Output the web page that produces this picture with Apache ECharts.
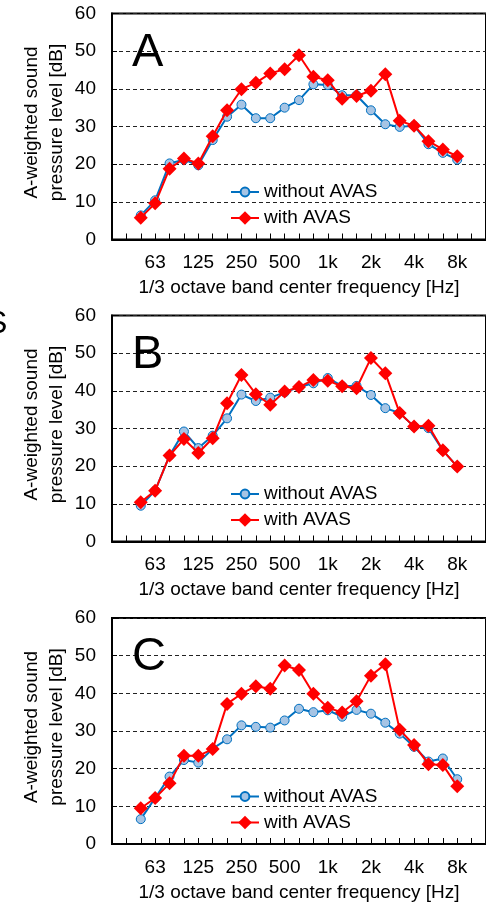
<!DOCTYPE html>
<html><head><meta charset="utf-8">
<script src="https://cdn.jsdelivr.net/npm/echarts@6/dist/echarts.min.js"></script>
<style>html,body{margin:0;padding:0;background:#fff;overflow:hidden}#c{width:486px;height:905px}</style>
</head><body><div id="c"></div>
<script>
// full 1/3-octave axis (axis extends past data on each side)
const axisBands = ['31.5','40','50','63','80','100','125','160','200','250','315','400','500','630','800','1k','1.25k','1.6k','2k','2.5k','3.15k','4k','5k','6.3k','8k','10k','12.5k'];
// measured bands
const bands = ['50','63','80','100','125','160','200','250','315','400','500','630','800','1k','1.25k','1.6k','2k','2.5k','3.15k','4k','5k','6.3k','8k'];
const labelBands = ['63','125','250','500','1k','2k','4k','8k'];

const A_without = [6.4,10.4,20.2,21.2,19.7,26.4,32.6,35.8,32.2,32.2,35.0,37.0,41.2,41.0,38.3,38.3,34.3,30.6,29.9,30.2,25.3,23.0,21.2];
const A_with    = [5.8,9.6,18.8,21.5,20.2,27.4,34.3,39.9,41.6,44.1,45.2,48.9,43.2,42.3,37.4,38.1,39.5,43.9,31.5,30.2,26.1,23.9,22.1];
const B_without = [9.5,13.5,22.8,29.2,24.8,28.1,32.7,39.0,37.3,38.2,39.6,41.0,42.0,43.4,41.3,41.3,38.9,35.4,34.1,30.5,30.1,24.2,19.9];
const B_with    = [10.4,13.5,22.8,27.2,23.5,27.4,36.7,44.2,39.1,36.3,39.8,41.0,42.9,42.7,41.2,40.7,48.7,44.7,34.1,30.5,30.7,24.2,19.9];
const C_without = [6.6,12.2,17.9,22.3,21.6,25.3,27.8,31.5,31.1,30.9,32.8,35.9,35.0,35.5,33.8,35.6,34.6,32.2,29.3,25.8,21.9,22.7,17.2];
const C_with    = [9.5,12.2,16.1,23.4,23.4,25.2,37.2,39.9,41.9,41.2,47.4,46.2,39.9,36.2,34.9,37.9,44.7,47.7,30.3,26.3,21.2,21.0,15.3];

const seriesNames = ['without AVAS','with AVAS'];
const yMin = 0, yMax = 60, yStep = 10;

const panels = [
  {letter:'A', without:A_without, withA:A_with, top:13.5},
  {letter:'B', without:B_without, withA:B_with, top:315.5},
  {letter:'C', without:C_without, withA:C_with, top:618}
];
const GH = 226, GL = 112, GW = 376;
const FONT = 'Liberation Sans, Arial, sans-serif';
const FS = 19;

const grid = [], xAxis = [], yAxis = [], series = [], legend = [], graphic = [];
panels.forEach((p, i) => {
  grid.push({left: GL, top: p.top, width: GW, height: GH, show: true, borderColor: '#000', borderWidth: 2, backgroundColor: 'transparent'});
  xAxis.push({
    type: 'category', gridIndex: i, data: axisBands, boundaryGap: false,
    axisLine: {lineStyle: {color: '#000', width: 2}},
    axisTick: {inside: true, length: 6, interval: 0, lineStyle: {color: '#000', width: 1}},
    axisLabel: {interval: (idx, val) => labelBands.includes(val), color: '#000', fontSize: FS, fontFamily: FONT, margin: 14},
    splitLine: {show: false},
    name: '1/3 octave band center frequency [Hz]', nameLocation: 'middle', nameGap: 39, nameMoveOverlap: false,
    nameTextStyle: {color: '#000', fontSize: FS, fontFamily: FONT}
  });
  yAxis.push({
    type: 'value', gridIndex: i, min: yMin, max: yMax, interval: yStep,
    axisLine: {show: true, lineStyle: {color: '#000', width: 2}},
    axisTick: {show: true, inside: true, length: 5, lineStyle: {color: '#000'}},
    axisLabel: {color: '#000', fontSize: FS, fontFamily: FONT, margin: 16},
    splitLine: {show: true, lineStyle: {color: '#222', type: [4, 3], width: 1}},
    name: 'A-weighted sound\npressure level [dB]', nameLocation: 'middle', nameGap: 42.5, nameMoveOverlap: false,
    nameTextStyle: {color: '#000', fontSize: FS, fontFamily: FONT, lineHeight: 25, padding: [0, 0, 0, 8]}
  });
  series.push({
    name: seriesNames[0], type: 'line', xAxisIndex: i, yAxisIndex: i,
    data: bands.map((b, k) => [b, p.without[k]]),
    symbol: 'circle', symbolSize: 9, showAllSymbol: true,
    lineStyle: {color: '#0070C0', width: 2},
    itemStyle: {color: '#A6C4E4', borderColor: '#0070C0', borderWidth: 1},
    z: 2, animation: false
  });
  series.push({
    name: seriesNames[1], type: 'line', xAxisIndex: i, yAxisIndex: i,
    data: bands.map((b, k) => [b, p.withA[k]]),
    symbol: 'diamond', symbolSize: 14, showAllSymbol: true,
    lineStyle: {color: '#FF0000', width: 2},
    itemStyle: {color: '#FF0000'},
    z: 3, animation: false
  });
  const gb = p.top + GH;
  legend.push({
    data: [seriesNames[0]], orient: 'vertical', left: 230, top: gb - 51.5 - 5.5, padding: 0,
    itemWidth: 28, itemHeight: 11, selectedMode: false,
    textStyle: {color: '#000', fontSize: FS, fontFamily: FONT}
  });
  legend.push({
    data: [seriesNames[1]], orient: 'vertical', left: 230, top: gb - 22.5 - 8.5, padding: 0,
    itemWidth: 28, itemHeight: 17, selectedMode: false,
    textStyle: {color: '#000', fontSize: FS, fontFamily: FONT}
  });
  graphic.push({
    type: 'text', left: 132, top: p.top + 16, z: 10,
    style: {text: p.letter, fontSize: 47, fontFamily: FONT, fill: '#000'}
  });
});
graphic.push({type: 'text', left: -14, top: 308, style: {text: 'S', fontSize: 32, fontFamily: FONT, fill: '#000'}});

const chart = echarts.init(document.getElementById('c'), null, {renderer: 'canvas'});
chart.setOption({animation: false, backgroundColor: '#fff', grid, xAxis, yAxis, series, legend, graphic});
</script></body></html>
